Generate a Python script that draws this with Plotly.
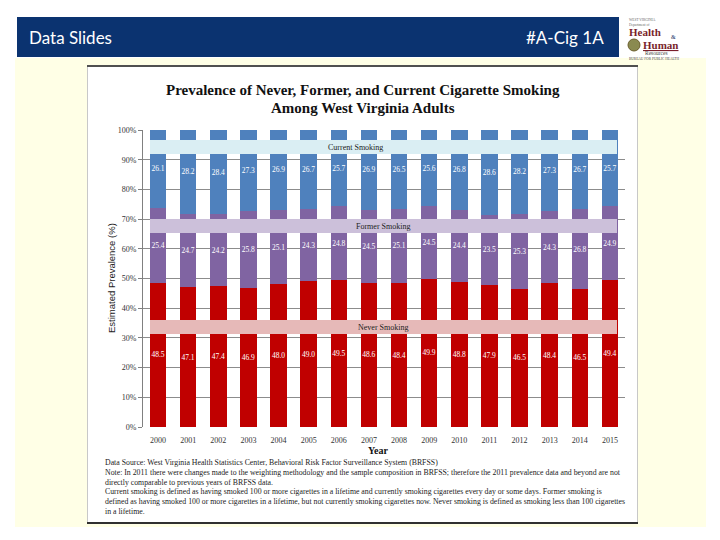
import plotly.graph_objects as go

years = [str(y) for y in range(2000, 2016)]
never = [48.5, 47.1, 47.4, 46.9, 48.0, 49.0, 49.5, 48.6, 48.4, 49.9, 48.8, 47.9, 46.5, 48.4, 46.5, 49.4]
former = [25.4, 24.7, 24.2, 25.8, 25.1, 24.3, 24.8, 24.5, 25.1, 24.5, 24.4, 23.5, 25.3, 24.3, 26.8, 24.9]
current = [26.1, 28.2, 28.4, 27.3, 26.9, 26.7, 25.7, 26.9, 26.5, 25.6, 26.8, 28.6, 28.2, 27.3, 26.7, 25.7]
y_ticks = [0, 10, 20, 30, 40, 50, 60, 70, 80, 90, 100]
y_ticktext = [f"{v}%" for v in y_ticks]

series_names = ["Never Smoking", "Former Smoking", "Current Smoking"]
series_colors = ["#C00000", "#8064A2", "#4F81BD"]
band_colors = ["#E6B9B8", "#CCC0DA", "#DAEEF3"]

footnotes = [
    "Data Source: West Virginia Health Statistics Center, Behavioral Risk Factor Surveillance System (BRFSS)",
    "Note: In 2011 there were changes made to the weighting methodology and the sample composition in BRFSS; therefore the 2011 prevalence data and beyond are not",
    "directly comparable to previous years of BRFSS data.",
    "Current smoking is defined as having smoked 100 or more cigarettes in a lifetime and currently smoking cigarettes every day or some days. Former smoking is",
    "defined as having smoked 100 or more cigarettes in a lifetime, but not currently smoking cigarettes now. Never smoking is defined as smoking less than 100 cigarettes",
    "in a lifetime.",
]

# the page body has an 8px margin; the figure is placed at (8, 8)
OFF = 8
FW, FH = 704, 524
# plot area in page pixels
L, R, T, B = 143, 625, 130, 427
W, H = R - L, B - T


def PX(x):
    return (x - L) / W


def PY(y):
    return (B - y) / H


SERIF = "Liberation Serif"
YELLOW = "#FFFFE6"


def ann(text, x, y, size, color="#222222", family=SERIF, xa="center", ya="middle", angle=0):
    return dict(text=text, x=PX(x), y=PY(y), xref="paper", yref="paper", xanchor=xa, yanchor=ya,
                showarrow=False, textangle=angle, font=dict(family=family, size=size, color=color))


def rect(x0, y0, x1, y1, fill, layer="below", line=None, kind="rect"):
    return dict(type=kind, xref="paper", yref="paper", x0=PX(x0), x1=PX(x1), y0=PY(y1), y1=PY(y0),
                fillcolor=fill, line=line or dict(width=0), layer=layer)


fig = go.Figure()
for vals, name, col in zip([never, former, current], series_names, series_colors):
    fig.add_trace(go.Bar(
        x=years, y=vals, name=name, marker=dict(color=col, line=dict(width=0)),
        text=[f"{v:.1f}" for v in vals], textposition="inside", insidetextanchor="middle",
        textangle=0, textfont=dict(family=SERIF, size=7.5, color="white"),
    ))

shapes = [
    # yellow panel around the white chart box (no overlap)
    rect(15, 58, 706, 65, YELLOW),
    rect(15, 524, 706, 527, YELLOW),
    rect(15, 65, 87, 524, YELLOW),
    rect(638, 65, 706, 524, YELLOW),
    # header bar
    rect(17, 17, 619, 57, "#0B3370"),
    # chart box border: dark top/bottom, light sides
    rect(87, 65, 638, 67, "#505050", layer="above"),
    rect(87, 522, 638, 524, "#303030", layer="above"),
    rect(87, 67, 88, 522, "#C8C8C8", layer="above"),
    rect(637, 67, 638, 522, "#C8C8C8", layer="above"),
    # logo seal
    rect(628, 39, 640, 51, "#8A8A50", layer="above", line=dict(width=1, color="#6B5E2E"), kind="circle"),
]

annotations = []
band_y = [(320, 334), (219, 233), (140, 154)]
band_text_x = [383, 383, 355]
for (y0, y1), col, name, tx in zip(band_y, band_colors, series_names, band_text_x):
    shapes.append(rect(150, y0, 617, y1, col, layer="above"))
    annotations.append(ann(name, tx, (y0 + y1) / 2 + 0.5, 8))

annotations += [
    ann("Data Slides", 27, 37, 17, "white", "Lato", xa="left"),
    ann("#A-Cig 1A", 606, 37, 17, "white", "Lato", xa="right"),
    ann("WEST VIRGINIA", 627, 20, 3.5, "#666666", xa="left"),
    ann("Department of", 627, 25, 3.5, "#666666", xa="left"),
    ann("<b>Health</b>", 627, 32, 11, "#7A1F2B", xa="left"),
    ann("&", 669, 37, 6, "#1C3466", xa="left"),
    ann("<b><u>Human</u></b>", 641, 45, 11, "#7A1F2B", xa="left"),
    ann("Resources", 643, 53, 5.5, "#444444", xa="left"),
    ann("BUREAU FOR PUBLIC HEALTH", 627, 59, 3.5, "#444444", xa="left"),
    ann("<b>Prevalence of Never, Former, and Current Cigarette Smoking</b>", 363, 90, 15, "#111111"),
    ann("<b>Among West Virginia Adults</b>", 363, 108, 15, "#111111"),
    ann("Estimated Prevalence (%)", 111, 278, 9.5, "#222222", "Liberation Sans", angle=-90),
    ann("<b>Year</b>", 378, 450, 10, "#111111"),
]
for i, line in enumerate(footnotes):
    annotations.append(ann(line, 103, 463 + 9.6 * i, 7.8, "#222222", xa="left"))

fig.update_layout(
    width=FW, height=FH,
    margin=dict(l=L - OFF, r=OFF + FW - R, t=T - OFF, b=OFF + FH - B, pad=0),
    paper_bgcolor="white", plot_bgcolor="white",
    barmode="stack", bargap=0.45, showlegend=False,
    shapes=shapes, annotations=annotations,
    uniformtext=dict(minsize=7, mode="show"),
)
fig.update_xaxes(type="category", showgrid=False, showline=False, ticks="outside", ticklen=5,
                 tickcolor="rgba(0,0,0,0)",
                 tickfont=dict(family=SERIF, size=8, color="#333333"))
fig.update_yaxes(range=[0, 100], tickvals=y_ticks, ticktext=y_ticktext, showgrid=True,
                 gridcolor="#8C8C8C", gridwidth=1, showline=True, linecolor="#808080", linewidth=1,
                 ticks="outside", ticklen=4, tickcolor="#808080", zeroline=False,
                 tickfont=dict(family=SERIF, size=8, color="#333333"))

fig.write_html("out.html")
